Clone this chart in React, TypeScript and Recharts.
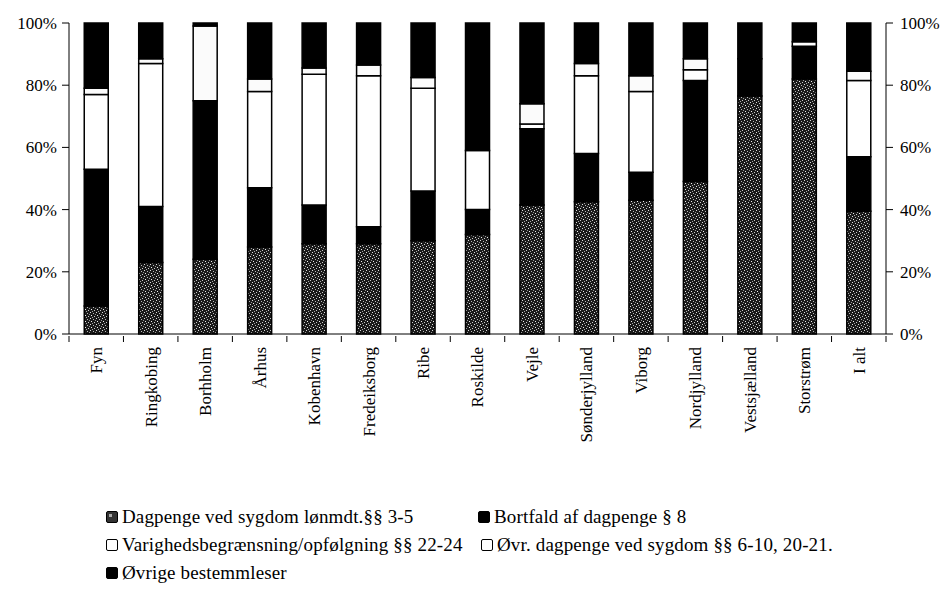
import React from 'react';
import { Bar, BarChart, XAxis, YAxis } from 'recharts';

const regions = ['Fyn', 'Ringkobing', 'Borhholm', 'Århus', 'Kobenhavn', 'Fredeiksborg', 'Ribe', 'Roskilde', 'Vejle', 'Sønderjylland', 'Viborg', 'Nordjylland', 'Vestsjælland', 'Storstrøm', 'I alt'];
const dagpenge = [9, 23, 24, 28, 29, 29, 30, 32, 41.5, 42.5, 43, 49, 76.5, 82, 39.5];
const bortfald = [44, 18, 51, 19, 12.5, 5.5, 16, 8, 24.5, 15.5, 9, 32.5, 12, 10.5, 17.5];
const varighed = [24, 46, 0, 31, 42, 48.5, 33, 19, 1.5, 25, 26, 3.5, 0, 1.5, 24.5];
const ovrDagpenge = [2, 1.5, 24, 4, 2, 3.5, 3.5, 0, 6.5, 4, 5, 3.5, 0, 0, 3];
const ovrige = [21, 11.5, 1, 18, 14.5, 13.5, 17.5, 41, 26, 13, 17, 11.5, 11.5, 6, 15.5];
const yTicks = [0, 0.2, 0.4, 0.6, 0.8, 1];

const data = regions.map((name, i) => ({
  name,
  dagpenge: dagpenge[i],
  bortfald: bortfald[i],
  varighed: varighed[i],
  ovrDagpenge: ovrDagpenge[i],
  ovrige: ovrige[i],
}));

const FONT = '"Liberation Serif"';
const CHART_W = 947;
const LEFT = 69;
const RIGHT = 886;
const BAND = (RIGHT - LEFT) / regions.length;

const CatTick = (props: any) => {
  const { x, y, payload, index } = props;
  return (
    <g>
      <line x1={x - BAND / 2} x2={x - BAND / 2} y1={y} y2={y + 6} stroke="#000" />
      {index === regions.length - 1 && (
        <line x1={x + BAND / 2} x2={x + BAND / 2} y1={y} y2={y + 6} stroke="#000" />
      )}
      <text
        transform={`translate(${x},${y + 11}) rotate(-90)`}
        textAnchor="end"
        dy="0.35em"
        fontSize={17}
        fontFamily={FONT}
        fill="#000"
      >
        {payload.value}
      </text>
    </g>
  );
};

const pct = (v: number) => `${Math.round(v * 100)}%`;

const LegendItem = ({ label, fill, dots }: { label: string; fill: string; dots?: boolean }) => (
  <span style={{ display: 'inline-flex', alignItems: 'center', fontFamily: FONT }}>
    <span
      style={{
        display: 'inline-block',
        width: 12,
        height: 12,
        border: '1.5px solid #000',
        borderRadius: 2,
        background: fill,
        marginRight: 4,
        boxSizing: 'border-box',
        position: 'relative',
      }}
    >
      {dots && (
        <span style={{ position: 'absolute', left: 2, top: 2, width: 3, height: 3, background: '#aaa' }} />
      )}
    </span>
    <span style={{ fontFamily: FONT }}>{label}</span>
  </span>
);

export default function App() {
  return (
    <div style={{ position: 'absolute', left: 0, top: 0, width: CHART_W, height: 589, background: '#fff', fontFamily: FONT }}>
      <BarChart
        width={CHART_W}
        height={454}
        data={data}
        stackOffset="expand"
        barCategoryGap="28%"
        margin={{ top: 23, right: 6, left: 9, bottom: 0 }}
      >
        <defs>
          <pattern id="stipple" width="6" height="6" patternUnits="userSpaceOnUse">
            <rect width="6" height="6" fill="#1a1a1a" />
            <rect x="0" y="0" width="1" height="1" fill="#ddd" />
            <rect x="3" y="1" width="1" height="1" fill="#bbb" />
            <rect x="1" y="3" width="1" height="1" fill="#eee" />
            <rect x="4" y="4" width="1" height="1" fill="#ccc" />
            <rect x="5" y="2" width="1" height="1" fill="#999" />
            <rect x="2" y="5" width="1" height="1" fill="#aaa" />
          </pattern>
        </defs>
        <XAxis
          dataKey="name"
          interval={0}
          tickLine={false}
          tickSize={0}
          axisLine={{ stroke: '#000' }}
          tick={<CatTick />}
          height={120}
        />
        <YAxis
          yAxisId="left"
          orientation="left"
          domain={[0, 1]}
          ticks={yTicks}
          tickFormatter={pct}
          axisLine={{ stroke: '#000' }}
          tickLine={{ stroke: '#000' }}
          tickSize={7}
          tickMargin={5}
          width={60}
          tick={{ fontSize: 17, fill: '#000', fontFamily: FONT }}
        />
        <YAxis
          yAxisId="right"
          orientation="right"
          domain={[0, 1]}
          ticks={yTicks}
          tickFormatter={pct}
          axisLine={{ stroke: '#000' }}
          tickLine={{ stroke: '#000' }}
          tickSize={7}
          tickMargin={7}
          width={55}
          tick={{ fontSize: 17, fill: '#000', fontFamily: FONT, textAnchor: 'start' }}
        />
        <Bar yAxisId="left" dataKey="dagpenge" stackId="a" fill="url(#stipple)" stroke="#000" strokeWidth={1.5} isAnimationActive={false} />
        <Bar yAxisId="left" dataKey="bortfald" stackId="a" fill="#000" stroke="#000" strokeWidth={1.5} isAnimationActive={false} />
        <Bar yAxisId="left" dataKey="varighed" stackId="a" fill="#fff" stroke="#000" strokeWidth={1.5} isAnimationActive={false} />
        <Bar yAxisId="left" dataKey="ovrDagpenge" stackId="a" fill="#fbfbfb" stroke="#000" strokeWidth={1.5} isAnimationActive={false} />
        <Bar yAxisId="left" dataKey="ovrige" stackId="a" fill="#000" stroke="#000" strokeWidth={1.5} isAnimationActive={false} />
      </BarChart>
      <div style={{ position: 'absolute', left: 106, top: 503, fontSize: 19, letterSpacing: 0.15, lineHeight: '28px', color: '#000', whiteSpace: 'nowrap', fontFamily: FONT }}>
        <div style={{ position: 'relative', height: 28 }}>
          <LegendItem label="Dagpenge ved sygdom lønmdt.§§ 3-5" fill="#333" dots />
          <span style={{ position: 'absolute', left: 372, top: 0 }}>
            <LegendItem label="Bortfald af dagpenge § 8" fill="#000" />
          </span>
        </div>
        <div style={{ position: 'relative', height: 28 }}>
          <LegendItem label="Varighedsbegrænsning/opfølgning §§ 22-24" fill="#fff" />
          <span style={{ position: 'absolute', left: 375, top: 0 }}>
            <LegendItem label="Øvr. dagpenge ved sygdom §§ 6-10, 20-21." fill="#fff" />
          </span>
        </div>
        <div style={{ position: 'relative', height: 28 }}>
          <LegendItem label="Øvrige bestemmleser" fill="#000" />
        </div>
      </div>
    </div>
  );
}
